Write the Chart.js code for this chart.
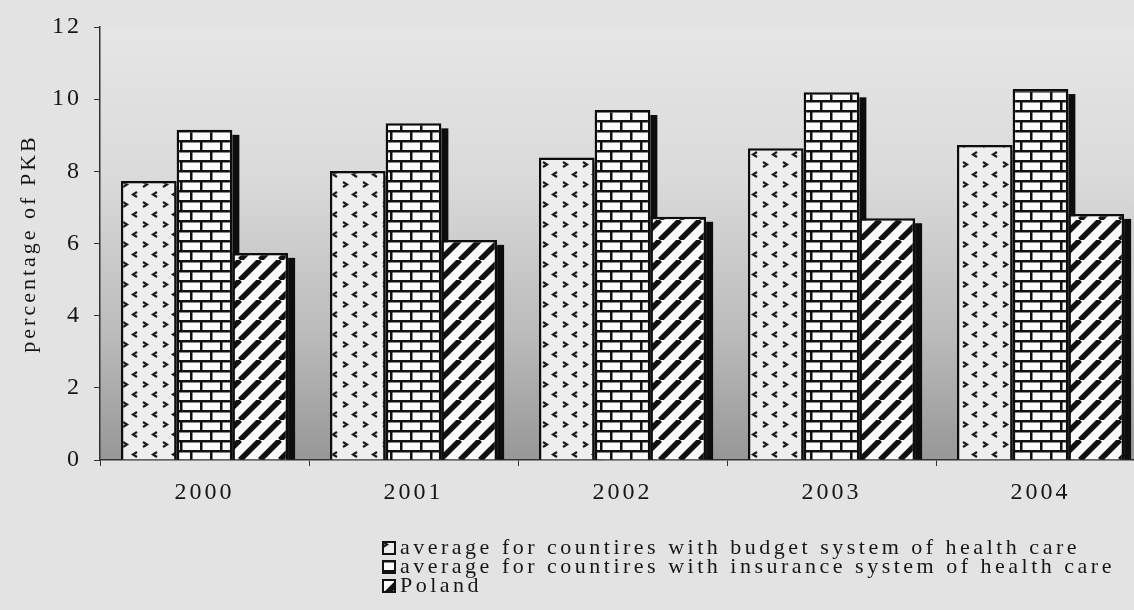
<!DOCTYPE html>
<html>
<head>
<meta charset="utf-8">
<script src="https://cdn.jsdelivr.net/npm/chart.js@4.4.0/dist/chart.umd.min.js"></script>
<style>
  html, body { margin: 0; padding: 0; overflow: hidden; background: #e3e3e3; }
  canvas { display: block; }
</style>
</head>
<body>
<canvas id="healthChart" width="1145" height="610"></canvas>
<script>
const years = ["2000", "2001", "2002", "2003", "2004"];
const budgetSystem = [7.73, 8.01, 8.38, 8.64, 8.73];
const insuranceSystem = [9.15, 9.33, 9.70, 10.19, 10.28];
const poland = [5.74, 6.10, 6.74, 6.70, 6.82];
const yTicks = [0, 2, 4, 6, 8, 10, 12];
const seriesNames = [
  "average for countires with budget system of health care",
  "average for countires with insurance system of health care",
  "Poland",
];

const ink = "#161616";
const serif = "'Liberation Serif', 'Times New Roman', serif";

function makeTile(size, paint) {
  const c = document.createElement("canvas");
  c.width = size;
  c.height = size;
  paint(c.getContext("2d"), size);
  return c.getContext("2d").createPattern(c, "repeat");
}

// little chevrons on light grey
const dotsFill = makeTile(20, (g, s) => {
  g.fillStyle = "#eeeeee";
  g.fillRect(0, 0, s, s);
  g.strokeStyle = "#1e1e1e";
  g.lineWidth = 2.2;
  g.beginPath();
  g.moveTo(3, 2); g.lineTo(7, 4.5); g.lineTo(3, 7);
  g.moveTo(17, 12); g.lineTo(13, 14.5); g.lineTo(17, 17);
  g.stroke();
});

// brick wall
const brickFill = makeTile(20, (g, s) => {
  g.fillStyle = "#fafafa";
  g.fillRect(0, 0, s, s);
  g.fillStyle = "#111";
  g.fillRect(0, 0, s, 2.5);
  g.fillRect(0, 10, s, 2.5);
  g.fillRect(0, 0, 2.5, 10);
  g.fillRect(10, 10, 2.5, 10);
});

// "/" hatching
const hatchFill = makeTile(20, (g, s) => {
  g.fillStyle = "#fafafa";
  g.fillRect(0, 0, s, s);
  g.strokeStyle = "#111";
  g.lineWidth = 5.5;
  g.beginPath();
  for (let k = -1; k <= 1; k++) {
    g.moveTo(k * s, s);
    g.lineTo(k * s + s, 0);
  }
  g.stroke();
});

const fills = [dotsFill, brickFill, hatchFill];

const spacingPlugin = {
  id: "spacing",
  beforeUpdate(chart) { chart.ctx.letterSpacing = "3px"; },
  beforeDraw(chart) { chart.ctx.letterSpacing = "3px"; },
};

const backdrop = {
  id: "backdrop",
  beforeDraw(chart) {
    const { ctx, chartArea: a } = chart;
    ctx.save();
    ctx.fillStyle = "#e3e3e3";
    ctx.fillRect(0, 0, chart.width, chart.height);
    const grad = ctx.createLinearGradient(0, a.top, 0, a.bottom);
    grad.addColorStop(0, "#e6e6e6");
    grad.addColorStop(0.35, "#dadada");
    grad.addColorStop(0.7, "#bcbcbc");
    grad.addColorStop(1, "#979797");
    ctx.fillStyle = grad;
    ctx.fillRect(a.left, a.top, a.right - a.left, a.bottom - a.top);
    ctx.restore();
  },
};

// dark drop shadow on the right side of every bar
const barShadow = {
  id: "barShadow",
  beforeDatasetsDraw(chart) {
    const ctx = chart.ctx;
    ctx.save();
    ctx.fillStyle = "#0d0d0d";
    chart.data.datasets.forEach((ds, i) => {
      chart.getDatasetMeta(i).data.forEach((bar) => {
        const { x, y, base, width } = bar.getProps(["x", "y", "base", "width"], true);
        ctx.fillRect(x + width / 2, y + 5, 7, base - y - 5);
      });
    });
    ctx.restore();
  },
};

const stackedLegend = {
  id: "stackedLegend",
  afterDraw(chart) {
    const ctx = chart.ctx;
    ctx.save();
    ctx.letterSpacing = "3.5px";
    ctx.font = "22px " + serif;
    ctx.textBaseline = "middle";
    chart.data.datasets.forEach((ds, i) => {
      const cy = 548 + i * 19;
      ctx.fillStyle = fills[i];
      ctx.fillRect(383, cy - 6, 12, 12);
      ctx.strokeStyle = "#111";
      ctx.lineWidth = 2;
      ctx.strokeRect(383, cy - 6, 12, 12);
      ctx.fillStyle = ink;
      ctx.fillText(ds.label, 400, cy);
    });
    ctx.restore();
  },
};

const ctx = document.getElementById("healthChart").getContext("2d");

new Chart(ctx, {
  type: "bar",
  data: {
    labels: years,
    datasets: [
      { label: seriesNames[0], data: budgetSystem, backgroundColor: dotsFill },
      { label: seriesNames[1], data: insuranceSystem, backgroundColor: brickFill },
      { label: seriesNames[2], data: poland, backgroundColor: hatchFill },
    ].map((d) => ({
      ...d,
      borderColor: "#0d0d0d",
      borderWidth: 2.5,
      categoryPercentage: 0.8,
      barPercentage: 1.0,
    })),
  },
  options: {
    responsive: false,
    animation: false,
    layout: { padding: { top: 27, right: 0, left: 0, bottom: 0 } },
    plugins: {
      legend: { display: false },
      tooltip: { enabled: false },
    },
    scales: {
      x: {
        afterFit: (scale) => { scale.height = 150; },
        grid: {
          offset: true,
          drawOnChartArea: false,
          drawTicks: true,
          tickLength: 6,
          color: "#333",
        },
        border: { color: "#333", width: 1.5 },
        ticks: {
          color: ink,
          padding: 12,
          font: { family: serif, size: 24 },
        },
      },
      y: {
        min: 0,
        max: 12,
        afterFit: (scale) => { scale.width = 100; },
        afterBuildTicks: (scale) => {
          scale.ticks = yTicks.map((v) => ({ value: v }));
        },
        grid: {
          drawOnChartArea: false,
          drawTicks: true,
          tickLength: 6,
          color: "#333",
        },
        border: { color: "#333", width: 1.5 },
        ticks: {
          color: ink,
          padding: 12,
          font: { family: serif, size: 24 },
        },
        title: {
          display: true,
          text: "percentage of PKB",
          color: ink,
          padding: { top: 16, bottom: 0 },
          font: { family: serif, size: 22 },
        },
      },
    },
  },
  plugins: [spacingPlugin, backdrop, barShadow, stackedLegend],
});
</script>
</body>
</html>
